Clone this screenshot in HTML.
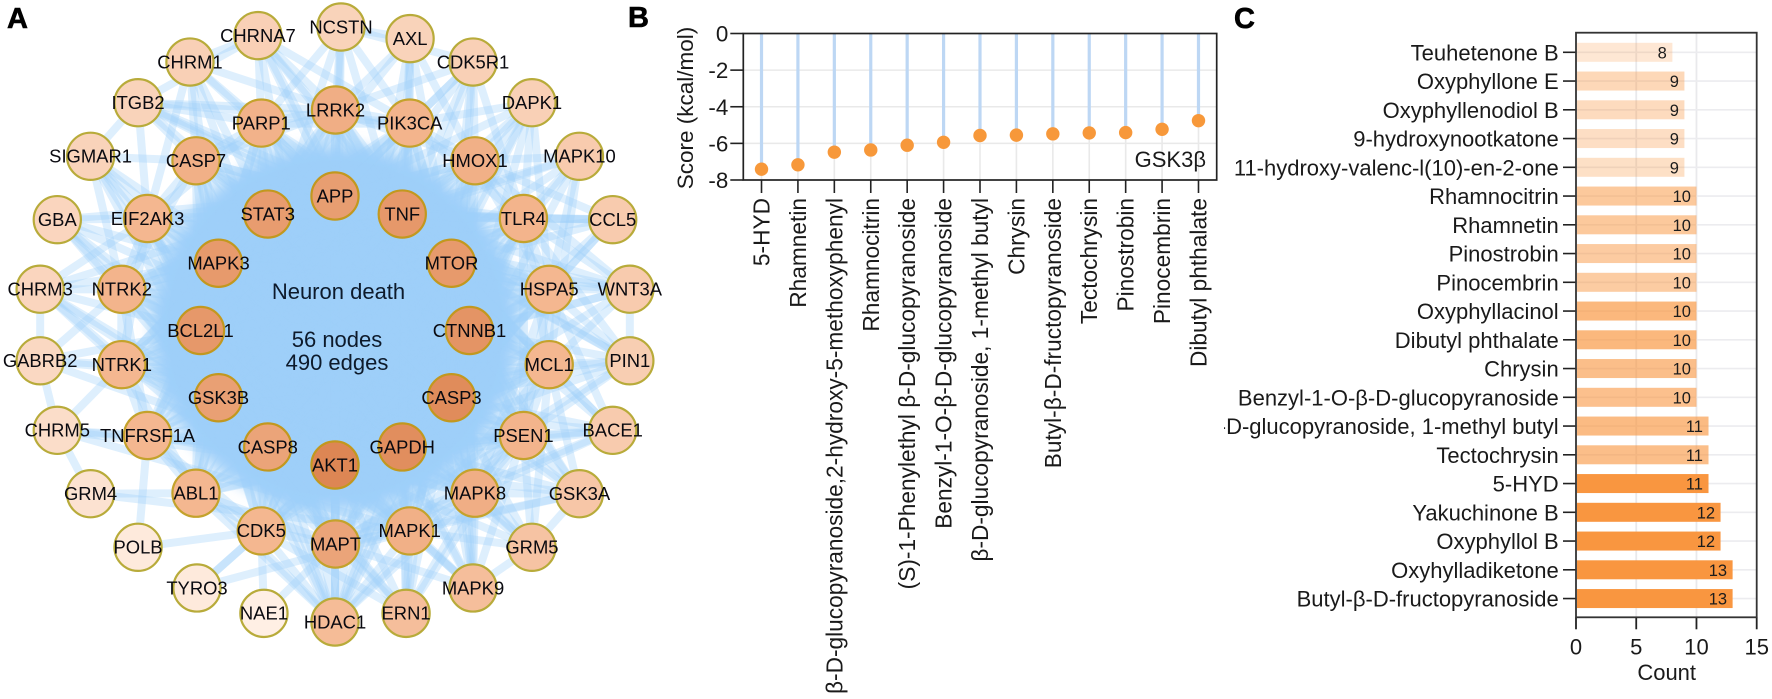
<!DOCTYPE html>
<html lang="en">
<head>
<meta charset="utf-8">
<title>Neuron death network, GSK3β docking scores and compound counts</title>
<style>
html,body{margin:0;padding:0;background:#fff;width:1772px;height:699px;overflow:hidden}
svg{display:block;font-family:"Liberation Sans",Arial,sans-serif}
</style>
</head>
<body>
<svg id="figure" xmlns="http://www.w3.org/2000/svg" width="1772" height="699" viewBox="0 0 1772 699">
  <defs>
    <clipPath id="c-clip"><rect x="1224" y="0" width="548" height="699"/></clipPath>
    <filter id="soft" x="-20%" y="-20%" width="140%" height="140%"><feGaussianBlur stdDeviation="7"/></filter>
  </defs>
  <g id="network">
    <circle cx="335" cy="328" r="182" fill="#9fcff9" filter="url(#soft)"/>
    <g id="edges"></g>
    <g id="nodes"></g>
    <text x="338.5" y="299" font-size="22" text-anchor="middle" fill="#0d1a2b">Neuron death</text>
    <text x="337" y="347" font-size="22" text-anchor="middle" fill="#0d1a2b">56 nodes</text>
    <text x="337" y="370" font-size="22" text-anchor="middle" fill="#0d1a2b">490 edges</text>
  </g>
  <g id="lollipop"></g>
  <g id="bars"></g>
  <text x="7" y="28" font-size="29" font-weight="bold" stroke="#000" stroke-width=".6">A</text>
  <text x="628" y="27" font-size="29" font-weight="bold" stroke="#000" stroke-width=".6">B</text>
  <text x="1234" y="28" font-size="29" font-weight="bold" stroke="#000" stroke-width=".6">C</text>
</svg>
<script>
var outerRing = ["HDAC1","ERN1","MAPK9","GRM5","GSK3A","BACE1","PIN1","WNT3A","CCL5","MAPK10","DAPK1","CDK5R1","AXL","NCSTN","CHRNA7","CHRM1","ITGB2","SIGMAR1","GBA","CHRM3","GABRB2","CHRM5","GRM4","POLB","TYRO3","NAE1"];
var outerDegrees = [22,21,21,19,18,16,15,16,16,16,14,14,13,13,14,14,13,13,12,12,11,9,7,4,4,2];
var middleRing = ["MAPT","MAPK1","MAPK8","PSEN1","MCL1","HSPA5","TLR4","HMOX1","PIK3CA","LRRK2","PARP1","CASP7","EIF2AK3","NTRK2","NTRK1","TNFRSF1A","ABL1","CDK5"];
var middleDegrees = [33,27,28,25,24,24,25,27,25,28,26,27,24,25,24,24,24,24];
var innerRing = ["AKT1","GAPDH","CASP3","CTNNB1","MTOR","TNF","APP","STAT3","MAPK3","BCL2L1","GSK3B","CASP8"];
var innerDegrees = [48,44,45,41,38,39,36,37,38,39,35,33];
var middleLinks = {
  MAPT:"MAPK1 MAPK8 CDK5 ABL1 PSEN1",
  MAPK1:"MAPK8 PSEN1 MCL1",
  MAPK8:"PSEN1 MCL1 HSPA5",
  PSEN1:"MCL1 HSPA5 TLR4",
  MCL1:"HSPA5 TLR4",
  HSPA5:"TLR4 HMOX1",
  TLR4:"HMOX1 PIK3CA",
  HMOX1:"PIK3CA LRRK2",
  PIK3CA:"LRRK2 PARP1",
  LRRK2:"PARP1 CASP7",
  PARP1:"CASP7 EIF2AK3",
  CASP7:"EIF2AK3 NTRK2",
  EIF2AK3:"NTRK2 NTRK1",
  NTRK2:"NTRK1 TNFRSF1A",
  NTRK1:"TNFRSF1A ABL1",
  TNFRSF1A:"ABL1 CDK5",
  ABL1:"CDK5"
};
var outerLinks = {
  HDAC1:"AKT1 GAPDH CASP3 CASP8 MAPT MAPK1 CDK5 ABL1 MAPK8 TNF STAT3 APP MTOR GSK3B CTNNB1 BCL2L1 MAPK3 TNFRSF1A PSEN1",
  ERN1:"AKT1 GAPDH CASP3 MAPK1 MAPK8 MAPT CDK5 MTOR PSEN1 TNF GSK3B CASP8",
  MAPK9:"AKT1 GAPDH CASP3 MAPK1 MAPK8 PSEN1 TNF MTOR CTNNB1 STAT3 BCL2L1 MAPT",
  GRM5:"MAPK1 MAPK8 PSEN1 AKT1 CASP3 GAPDH MAPK3 GSK3A MCL1 STAT3 MAPK9",
  GSK3A:"PSEN1 MAPK8 MCL1 GSK3B AKT1 CASP3 CTNNB1 MAPT TNF MAPK3 MAPK1",
  BACE1:"PSEN1 MCL1 MAPT APP CASP3 GSK3B GAPDH AKT1 TNF HSPA5 MAPK8",
  PIN1:"MCL1 HSPA5 PSEN1 CTNNB1 APP MAPT AKT1 CASP3 TNF MTOR GSK3B TLR4",
  WNT3A:"HSPA5 TLR4 CTNNB1 MTOR GSK3B AKT1 STAT3 MCL1 TNF MAPK3 PIN1 HMOX1",
  CCL5:"TLR4 HSPA5 TNF STAT3 AKT1 MAPK3 MTOR HMOX1 CASP3",
  MAPK10:"HMOX1 TLR4 HSPA5 MAPK3 AKT1 CASP3 TNF GSK3B MCL1",
  DAPK1:"HMOX1 PIK3CA TLR4 CASP3 CASP8 MTOR AKT1 TNF APP HSPA5",
  CDK5R1:"PIK3CA HMOX1 LRRK2 TLR4 CDK5 APP MTOR AKT1 GSK3B CASP3",
  AXL:"PIK3CA LRRK2 NCSTN HMOX1 TNF AKT1 STAT3 MTOR GAPDH",
  NCSTN:"LRRK2 PIK3CA PARP1 APP AKT1 CASP3 GSK3B CDK5R1",
  CHRNA7:"PARP1 LRRK2 PIK3CA APP TNF AKT1 CHRM1 ITGB2 MTOR CASP3",
  CHRM1:"PARP1 CASP7 EIF2AK3 AKT1 APP MAPK3 STAT3 LRRK2",
  ITGB2:"CASP7 PIK3CA STAT3 TNF EIF2AK3 MTOR PARP1 SIGMAR1 APP LRRK2",
  SIGMAR1:"CASP7 EIF2AK3 MAPK3 GSK3B AKT1 CASP3 BCL2L1 NTRK2",
  GBA:"EIF2AK3 NTRK2 APP BCL2L1 MAPK3 CASP3 AKT1 MAPT",
  CHRM3:"NTRK2 EIF2AK3 NTRK1 AKT1 MAPK3 APP GABRB2 MAPK1 MAPT BCL2L1",
  GABRB2:"NTRK1 NTRK2 CHRM5 AKT1 BCL2L1 CASP3",
  CHRM5:"NTRK1 TNFRSF1A GRM4 MAPK1 CASP8 AKT1",
  GRM4:"ABL1 MAPK1",
  POLB:"CDK5 TNFRSF1A",
  TYRO3:"CDK5 AKT1 MAPK1",
  NAE1:"CDK5 MAPT"
};

var compounds = ["5-HYD","Rhamnetin","β-D-glucopyranoside,2-hydroxy-5-methoxyphenyl","Rhamnocitrin","(S)-1-Phenylethyl β-D-glucopyranoside","Benzyl-1-O-β-D-glucopyranoside","β-D-glucopyranoside, 1-methyl butyl","Chrysin","Butyl-β-D-fructopyranoside","Tectochrysin","Pinostrobin","Pinocembrin","Dibutyl phthalate"];
var scores = [-7.41,-7.17,-6.48,-6.36,-6.1,-5.94,-5.57,-5.55,-5.48,-5.43,-5.41,-5.23,-4.76];
var scoreTicks = [0,-2,-4,-6,-8];

var countCategories = ["Teuhetenone B","Oxyphyllone E","Oxyphyllenodiol B","9-hydroxynootkatone","11-hydroxy-valenc-l(10)-en-2-one","Rhamnocitrin","Rhamnetin","Pinostrobin","Pinocembrin","Oxyphyllacinol","Dibutyl phthalate","Chrysin","Benzyl-1-O-β-D-glucopyranoside","β-D-glucopyranoside, 1-methyl butyl","Tectochrysin","5-HYD","Yakuchinone B","Oxyphyllol B","Oxyhylladiketone","Butyl-β-D-fructopyranoside"];
var countValues = [8,9,9,9,9,10,10,10,10,10,10,10,10,11,11,11,12,12,13,13];
var countTicks = [0,5,10,15];
var barShade = [.22,.36,.33,.30,.29,.5,.5,.48,.47,.66,.66,.6,.58,.63,.6,.97,.97,.97,.97,.97];

var NS = "http://www.w3.org/2000/svg";
function make(parent, tag, attrs, text) {
  var el = document.createElementNS(NS, tag);
  for (var k in attrs) el.setAttribute(k, attrs[k]);
  if (text !== undefined) el.textContent = text;
  parent.appendChild(el);
  return el;
}

/* ---------- Panel A: circular network ---------- */
function ringPoint(cx, cy, r, n, k) {
  var a = k * 2 * Math.PI / n;
  return { x: cx + r * Math.sin(a), y: cy + r * Math.cos(a) };
}
var nudge = { AXL:[4,2], NCSTN:[6,-1], CHRNA7:[-6,-1], CHRM1:[-7,0] };
var pos = {}, deg = {}, ringOf = {};
function placeRing(names, degrees, cx, cy, r, ring) {
  names.forEach(function (name, k) {
    var p = ringPoint(cx, cy, r, names.length, k);
    var d = nudge[name] || [0, 0];
    pos[name] = { x: p.x + d[0], y: p.y + d[1] };
    deg[name] = degrees[k];
    ringOf[name] = ring;
  });
}
placeRing(outerRing, outerDegrees, 335, 325, 297, 0);
placeRing(middleRing, middleDegrees, 335.5, 327, 217, 1);
placeRing(innerRing, innerDegrees, 335, 330.5, 134.5, 2);

function mix(a, b, t) {
  return "rgb(" + [0, 1, 2].map(function (i) { return Math.round(a[i] + (b[i] - a[i]) * t); }).join(",") + ")";
}
function degreeColor(d) {
  var t = Math.max(0, Math.min(1, (d - 2) / 46));
  return t < .5 ? mix([255, 239, 228], [243, 180, 140], t / .5) : mix([243, 180, 140], [221, 134, 84], (t - .5) / .5);
}

var edgeLayer = document.getElementById("edges");
function addEdge(a, b, w) {
  var el = make(edgeLayer, "line", { x1: pos[a].x, y1: pos[a].y, x2: pos[b].x, y2: pos[b].y, stroke: "#9fcff9", "stroke-width": w, "stroke-opacity": .34 });
  
  
}
innerRing.forEach(function (a, i) {
  innerRing.slice(i + 1).forEach(function (b) { addEdge(a, b, 9); });
  middleRing.forEach(function (b) { addEdge(a, b, 9); });
});
Object.keys(middleLinks).forEach(function (a) {
  middleLinks[a].split(" ").forEach(function (b) { addEdge(a, b, 9); });
});
Object.keys(outerLinks).forEach(function (a) {
  outerLinks[a].split(" ").forEach(function (b) { addEdge(a, b, 8); });
});

var nodeLayer = document.getElementById("nodes");
outerRing.concat(middleRing, innerRing).forEach(function (name) {
  var p = pos[name];
  var g = make(nodeLayer, "g", {});
  
  
  make(g, "circle", { cx: p.x, cy: p.y, r: 23.6, fill: degreeColor(deg[name]), stroke: ringOf[name] === 2 ? "#c2981f" : (ringOf[name] === 1 ? "#c4a22c" : "#b8ab3a"), "stroke-width": 2.2 });
  make(g, "text", { x: p.x, y: p.y + 6.3, "font-size": 18.4, "text-anchor": "middle", fill: "#0a0a10" }, name);
});

/* ---------- Panel B: lollipop chart ---------- */
var B = { left: 743.3, right: 1216.7, top: 33.5, bottom: 180 };
function xB(i) { return B.left + (i + .5) * (B.right - B.left) / compounds.length; }
function yB(v) { return B.top + (0 - v) * (B.bottom - B.top) / 8; }
var gB = document.getElementById("lollipop");
scoreTicks.forEach(function (t) {
  var y = yB(t);
  if (t !== 0 && t !== -8) {
    var gl = make(gB, "line", { x1: B.left, x2: B.right, y1: y, y2: y, stroke: "#e9e9e9", "stroke-width": 1.6 });
    
    
  }
  var tk = make(gB, "line", { x1: B.left - 13, x2: B.left, y1: y, y2: y, stroke: "#222", "stroke-width": 1.6 });
  
  
  var tl = make(gB, "text", { x: B.left - 15, y: y + 8, "font-size": 22.4, "text-anchor": "end", fill: "#1a1a1a" }, String(t));
  
  
});
compounds.forEach(function (name, i) {
  var x = xB(i), y = yB(scores[i]);
  var gv = make(gB, "line", { x1: x, x2: x, y1: B.top, y2: B.bottom, stroke: "#e9e9e9", "stroke-width": 1.6 });
  
  
  var st = make(gB, "line", { x1: x, x2: x, y1: B.top, y2: y, stroke: "#bdd7f4", "stroke-width": 3.2 });
  
  
  var dot = make(gB, "circle", { cx: x, cy: y, r: 6.7, fill: "#f7983a" });
  
  
  var tk = make(gB, "line", { x1: x, x2: x, y1: B.bottom, y2: B.bottom + 13, stroke: "#222", "stroke-width": 1.6 });
  
  
  var lb = make(gB, "text", { x: x + 8, y: 198, "font-size": 22.7, "text-anchor": "end", fill: "#1a1a1a", transform: "rotate(-90 " + (x + 8) + " 198)" }, name);
  
  
});
var frB = make(gB, "rect", { x: B.left, y: B.top, width: B.right - B.left, height: B.bottom - B.top, fill: "none", stroke: "#222", "stroke-width": 1.7 });


var ttlB = make(gB, "text", { x: 693, y: 108, "font-size": 22.5, "text-anchor": "middle", fill: "#1a1a1a", transform: "rotate(-90 693 108)" }, "Score (kcal/mol)");


var tagB = make(gB, "text", { x: 1206, y: 167, "font-size": 22, "text-anchor": "end", fill: "#1a1a1a" }, "GSK3β");



/* ---------- Panel C: bar chart ---------- */
var C = { left: 1576, right: 1756.7, top: 32.7, bottom: 617.3, first: 52.3, step: 28.75 };
function xC(v) { return C.left + v * (C.right - C.left) / 15; }
function yC(i) { return C.first + i * C.step; }
var gC = document.getElementById("bars");
countTicks.forEach(function (t) {
  var x = xC(t);
  if (t !== 0 && t !== 15) {
    var gl = make(gC, "line", { x1: x, x2: x, y1: C.top, y2: C.bottom, stroke: "#e9e9ec", "stroke-width": 1.8 });
    
    
  }
  var tk = make(gC, "line", { x1: x, x2: x, y1: C.bottom, y2: C.bottom + 12, stroke: "#222", "stroke-width": 1.8 });
  
  
  var tl = make(gC, "text", { x: x, y: 654.5, "font-size": 22, "text-anchor": "middle", fill: "#1a1a1a" }, String(t));
  
  
});
countCategories.forEach(function (name, i) {
  var y = yC(i), v = countValues[i];
  var gl = make(gC, "line", { x1: C.left, x2: C.right, y1: y, y2: y, stroke: "#ececef", "stroke-width": 1.6 });
  
  
  var bar = make(gC, "rect", { x: C.left + 1, y: y - 9.5, width: xC(v) - C.left - 1, height: 19, fill: "#f9933a", "fill-opacity": barShade[i] });
  
  
  var val = make(gC, "text", { x: xC(v) - 5.5, y: y + 6, "font-size": 16.5, "text-anchor": "end", fill: "#1c1c1c" }, String(v));
  
  
  var tk = make(gC, "line", { x1: C.left - 13, x2: C.left, y1: y, y2: y, stroke: "#222", "stroke-width": 1.6 });
  
  
  var lb = make(gC, "text", { x: 1558.7, y: y + 8, "font-size": 22, "text-anchor": "end", fill: "#1a1a1a", "clip-path": "url(#c-clip)" }, name);
  
  
});
var frC = make(gC, "rect", { x: C.left, y: C.top, width: C.right - C.left, height: C.bottom - C.top, fill: "none", stroke: "#333", "stroke-width": 1.8 });


var ttlC = make(gC, "text", { x: 1666.7, y: 680, "font-size": 22, "text-anchor": "middle", fill: "#1a1a1a" }, "Count");


</script>
</body>
</html>
